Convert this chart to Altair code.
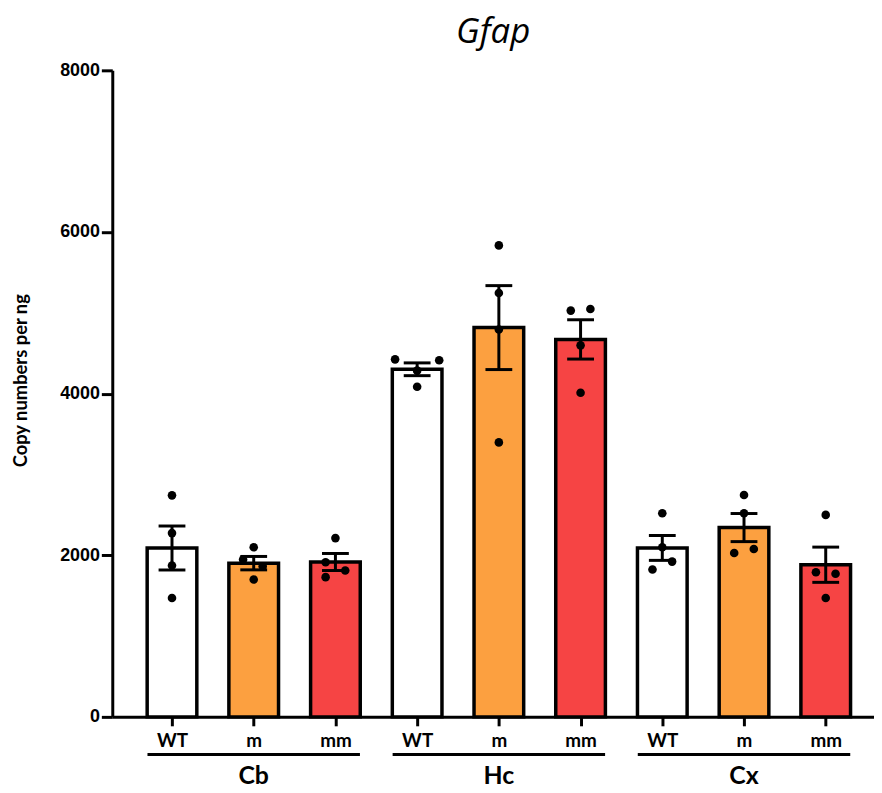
import json
import math
import altair as alt
import pandas as pd

tissues = ["Cb", "Hc", "Cx"]
genotypes = ["WT", "m", "mm"]
colors = ["#FFFFFF", "#FCA040", "#F64444"]

cb_wt = [2741, 2274, 1872, 1471]
cb_m = [2098, 1946, 1864, 1700]
cb_mm = [2212, 1913, 1811, 1729]
hc_wt = [4424, 4412, 4284, 4084]
hc_m = [5834, 5244, 4793, 3396]
hc_mm = [5047, 5027, 4597, 4011]
cx_wt = [2519, 2098, 1921, 1823]
cx_m = [2745, 2519, 2077, 2028]
cx_mm = [2499, 1790, 1770, 1471]

# horizontal spread of the dots (fraction of one bar step)
cb_wt_dx = [0, 0, 0, 0]
cb_m_dx = [0, -0.13, 0.11, 0]
cb_mm_dx = [0, -0.12, 0.12, -0.12]
hc_wt_dx = [-0.27, 0.27, 0, 0]
hc_m_dx = [0, 0, 0, 0]
hc_mm_dx = [0.12, -0.12, 0, 0]
cx_wt_dx = [0, 0, 0.12, -0.12]
cx_m_dx = [0, 0, 0.12, -0.12]
cx_mm_dx = [0, -0.12, 0.12, 0]

groups = [
    [(cb_wt, cb_wt_dx), (cb_m, cb_m_dx), (cb_mm, cb_mm_dx)],
    [(hc_wt, hc_wt_dx), (hc_m, hc_m_dx), (hc_mm, hc_mm_dx)],
    [(cx_wt, cx_wt_dx), (cx_m, cx_m_dx), (cx_mm, cx_mm_dx)],
]

pt_rows, sum_rows, grp_rows = [], [], []
for ti, t in enumerate(tissues):
    for gi, g in enumerate(genotypes):
        vals, dxs = groups[ti][gi]
        idx = ti * 3 + gi
        for v, d in zip(vals, dxs):
            pt_rows.append({"tissue": t, "genotype": g, "idx": idx, "xpos": idx + d, "value": v})
        s = pd.Series(vals)
        m = s.mean()
        sem = s.std(ddof=1) / math.sqrt(len(vals))
        sum_rows.append({"tissue": t, "genotype": g, "idx": idx, "mean": m, "lo": m - sem, "hi": m + sem})
    grp_rows.append({"tissue": t, "start": ti * 3 - 0.3, "end": ti * 3 + 2 + 0.3, "center": ti * 3 + 1})

points_df = pd.DataFrame(pt_rows)
summary_df = pd.DataFrame(sum_rows)
groups_df = pd.DataFrame(grp_rows)
title_df = pd.DataFrame({"t": ["Gfap"], "x": [3.93]})

W, H = 767, 651
xscale = alt.Scale(domain=[-0.67, 8.53], nice=False, zero=False)
yscale = alt.Scale(domain=[0, 8000], nice=False)

x_axis = alt.Axis(
    values=list(range(9)),
    labelExpr=json.dumps(genotypes) + "[datum.value % 3]",
    labelFont="Lato", labelFontWeight="bold", labelFontSize=19, labelColor="black",
    labelPadding=6, tickSize=9, tickWidth=3, tickColor="black",
    domainWidth=3, domainColor="black", grid=False, title=None,
)
y_axis = alt.Axis(
    values=[0, 2000, 4000, 6000, 8000], format="d",
    labelFont="Liberation Sans", labelFontWeight="bold", labelFontSize=18, labelColor="black",
    labelPadding=2, tickSize=11, tickWidth=3, tickColor="black",
    domainWidth=3, domainColor="black", grid=False,
    title="Copy numbers per ng", titleFont="Lato", titleFontSize=18.5, titleFontWeight="bold",
    titleColor="black", titleX=-92, titleY=312, titleAngle=270, titleBaseline="middle", titleAlign="center",
)

bars = alt.Chart(summary_df).mark_bar(size=50, stroke="black", strokeWidth=3.5).encode(
    x=alt.X("idx:Q", scale=xscale, axis=x_axis),
    y=alt.Y("mean:Q", scale=yscale, axis=y_axis),
    fill=alt.Fill("genotype:N", scale=alt.Scale(domain=genotypes, range=colors), legend=None),
)
err = alt.Chart(summary_df).mark_rule(strokeWidth=3, color="black").encode(
    x="idx:Q", y="lo:Q", y2="hi:Q"
)
cap_hi = alt.Chart(summary_df).mark_tick(orient="horizontal", size=27, thickness=3, color="black", opacity=1).encode(
    x="idx:Q", y="hi:Q"
)
cap_lo = alt.Chart(summary_df).mark_tick(orient="horizontal", size=27, thickness=3, color="black", opacity=1).encode(
    x="idx:Q", y="lo:Q"
)
dots = alt.Chart(points_df).mark_circle(size=75, color="black", opacity=1).encode(
    x="xpos:Q", y="value:Q"
)
underline = alt.Chart(groups_df).mark_rule(strokeWidth=3, color="black").encode(
    x="start:Q", x2="end:Q", y=alt.value(H + 38)
)
glabels = alt.Chart(groups_df).mark_text(
    font="Lato", fontWeight="bold", fontSize=25, baseline="middle", align="center", color="black"
).encode(x="center:Q", y=alt.value(H + 60), text="tissue:N")
title = alt.Chart(title_df).mark_text(
    font="Open Sans", fontStyle="italic", fontWeight="normal", fontSize=35, baseline="middle",
    align="center", color="black"
).encode(x="x:Q", y=alt.value(-39), text="t:N")

chart = alt.layer(bars, err, cap_hi, cap_lo, dots, underline, glabels, title).properties(
    width=W, height=H,
    padding={"left": 105, "top": 60, "right": 0, "bottom": 90},
    autosize="none",
).configure_view(stroke=None)

chart.save("out.html", embed_options={"renderer": "svg", "actions": False})
